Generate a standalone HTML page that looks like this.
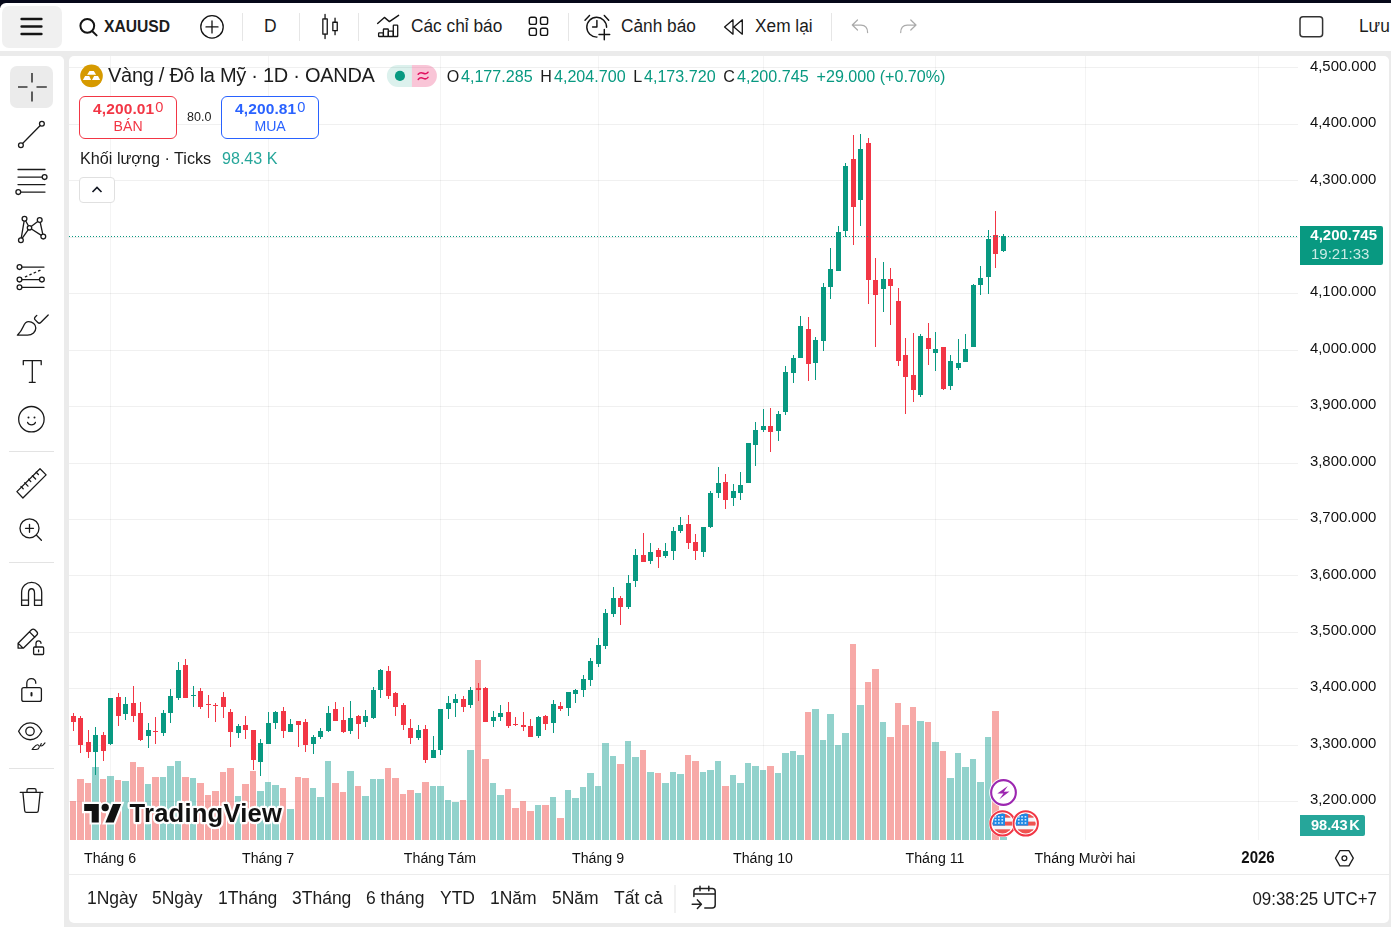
<!DOCTYPE html>
<html><head><meta charset="utf-8">
<style>
*{box-sizing:border-box;margin:0;padding:0}
html,body{width:1391px;height:927px;overflow:hidden;background:#ebebeb;font-family:"Liberation Sans",sans-serif;color:#1c1c1c}
.abs{position:absolute}
#topdark{left:0;top:0;width:1391px;height:8px;background:#060819}
#topbar{left:0;top:3px;width:1391px;height:48px;background:#fff;border-top-left-radius:6px}
#left{left:0;top:56px;width:64px;height:871px;background:#fff;border-top-right-radius:5px}
#pane{left:69px;top:56px;width:1320px;height:867px;background:#fff;border-radius:5px}
.t{position:absolute;white-space:nowrap;line-height:1}
.sep{position:absolute;width:1px;background:#e6e6e6;top:13px;height:28px}
svg{position:absolute;left:0;top:0;overflow:visible}
.ax{font-size:14.9px;color:#111}
.tm{font-size:15.5px;color:#111}
.rng{font-size:17.5px}
</style></head><body>
<div id="topdark" class="abs"></div>
<div id="topbar" class="abs"></div>
<div id="left" class="abs"></div>
<div id="pane" class="abs"></div>

<!-- chart svg -->
<svg width="1391" height="927" viewBox="0 0 1391 927" shape-rendering="crispEdges">
<rect x="110" y="56" width="1" height="784" fill="rgba(0,0,0,0.045)"/>
<rect x="268" y="56" width="1" height="784" fill="rgba(0,0,0,0.045)"/>
<rect x="440" y="56" width="1" height="784" fill="rgba(0,0,0,0.045)"/>
<rect x="598" y="56" width="1" height="784" fill="rgba(0,0,0,0.045)"/>
<rect x="763" y="56" width="1" height="784" fill="rgba(0,0,0,0.045)"/>
<rect x="935" y="56" width="1" height="784" fill="rgba(0,0,0,0.045)"/>
<rect x="1085" y="56" width="1" height="784" fill="rgba(0,0,0,0.045)"/>
<rect x="1258" y="56" width="1" height="784" fill="rgba(0,0,0,0.045)"/>
<rect x="69" y="67" width="1229" height="1" fill="rgba(0,0,0,0.058)"/>
<rect x="69" y="124" width="1229" height="1" fill="rgba(0,0,0,0.058)"/>
<rect x="69" y="180" width="1229" height="1" fill="rgba(0,0,0,0.058)"/>
<rect x="69" y="237" width="1229" height="1" fill="rgba(0,0,0,0.058)"/>
<rect x="69" y="293" width="1229" height="1" fill="rgba(0,0,0,0.058)"/>
<rect x="69" y="350" width="1229" height="1" fill="rgba(0,0,0,0.058)"/>
<rect x="69" y="406" width="1229" height="1" fill="rgba(0,0,0,0.058)"/>
<rect x="69" y="463" width="1229" height="1" fill="rgba(0,0,0,0.058)"/>
<rect x="69" y="519" width="1229" height="1" fill="rgba(0,0,0,0.058)"/>
<rect x="69" y="575" width="1229" height="1" fill="rgba(0,0,0,0.058)"/>
<rect x="69" y="632" width="1229" height="1" fill="rgba(0,0,0,0.058)"/>
<rect x="69" y="688" width="1229" height="1" fill="rgba(0,0,0,0.058)"/>
<rect x="69" y="745" width="1229" height="1" fill="rgba(0,0,0,0.058)"/>
<rect x="69" y="801" width="1229" height="1" fill="rgba(0,0,0,0.058)"/>
<rect x="70" y="801" width="6" height="39" fill="rgba(239,83,80,0.5)"/>
<rect x="77" y="779" width="7" height="61" fill="rgba(239,83,80,0.5)"/>
<rect x="85" y="783" width="6" height="57" fill="rgba(239,83,80,0.5)"/>
<rect x="92" y="767" width="7" height="73" fill="rgba(38,166,154,0.5)"/>
<rect x="100" y="779" width="6" height="61" fill="rgba(239,83,80,0.5)"/>
<rect x="107" y="776" width="7" height="64" fill="rgba(38,166,154,0.5)"/>
<rect x="115" y="780" width="6" height="60" fill="rgba(239,83,80,0.5)"/>
<rect x="122" y="781" width="7" height="59" fill="rgba(38,166,154,0.5)"/>
<rect x="130" y="762" width="6" height="78" fill="rgba(239,83,80,0.5)"/>
<rect x="137" y="767" width="7" height="73" fill="rgba(239,83,80,0.5)"/>
<rect x="145" y="784" width="6" height="56" fill="rgba(38,166,154,0.5)"/>
<rect x="152" y="777" width="7" height="63" fill="rgba(239,83,80,0.5)"/>
<rect x="160" y="777" width="6" height="63" fill="rgba(38,166,154,0.5)"/>
<rect x="167" y="766" width="7" height="74" fill="rgba(38,166,154,0.5)"/>
<rect x="175" y="761" width="6" height="79" fill="rgba(38,166,154,0.5)"/>
<rect x="182" y="777" width="7" height="63" fill="rgba(239,83,80,0.5)"/>
<rect x="190" y="778" width="6" height="62" fill="rgba(38,166,154,0.5)"/>
<rect x="197" y="783" width="7" height="57" fill="rgba(239,83,80,0.5)"/>
<rect x="205" y="795" width="6" height="45" fill="rgba(239,83,80,0.5)"/>
<rect x="212" y="791" width="7" height="49" fill="rgba(239,83,80,0.5)"/>
<rect x="220" y="772" width="6" height="68" fill="rgba(239,83,80,0.5)"/>
<rect x="227" y="768" width="7" height="72" fill="rgba(239,83,80,0.5)"/>
<rect x="235" y="796" width="6" height="44" fill="rgba(38,166,154,0.5)"/>
<rect x="242" y="784" width="7" height="56" fill="rgba(239,83,80,0.5)"/>
<rect x="250" y="771" width="6" height="69" fill="rgba(239,83,80,0.5)"/>
<rect x="257" y="791" width="7" height="49" fill="rgba(38,166,154,0.5)"/>
<rect x="265" y="782" width="6" height="58" fill="rgba(38,166,154,0.5)"/>
<rect x="272" y="785" width="7" height="55" fill="rgba(38,166,154,0.5)"/>
<rect x="280" y="788" width="6" height="52" fill="rgba(239,83,80,0.5)"/>
<rect x="287" y="809" width="7" height="31" fill="rgba(38,166,154,0.5)"/>
<rect x="295" y="777" width="6" height="63" fill="rgba(239,83,80,0.5)"/>
<rect x="302" y="778" width="7" height="62" fill="rgba(239,83,80,0.5)"/>
<rect x="310" y="788" width="6" height="52" fill="rgba(38,166,154,0.5)"/>
<rect x="317" y="797" width="7" height="43" fill="rgba(38,166,154,0.5)"/>
<rect x="325" y="761" width="6" height="79" fill="rgba(38,166,154,0.5)"/>
<rect x="332" y="783" width="7" height="57" fill="rgba(239,83,80,0.5)"/>
<rect x="340" y="792" width="6" height="48" fill="rgba(239,83,80,0.5)"/>
<rect x="347" y="771" width="7" height="69" fill="rgba(38,166,154,0.5)"/>
<rect x="355" y="786" width="6" height="54" fill="rgba(239,83,80,0.5)"/>
<rect x="362" y="796" width="7" height="44" fill="rgba(38,166,154,0.5)"/>
<rect x="370" y="779" width="6" height="61" fill="rgba(38,166,154,0.5)"/>
<rect x="377" y="779" width="7" height="61" fill="rgba(38,166,154,0.5)"/>
<rect x="385" y="768" width="6" height="72" fill="rgba(239,83,80,0.5)"/>
<rect x="392" y="778" width="7" height="62" fill="rgba(239,83,80,0.5)"/>
<rect x="400" y="794" width="6" height="46" fill="rgba(239,83,80,0.5)"/>
<rect x="407" y="790" width="7" height="50" fill="rgba(239,83,80,0.5)"/>
<rect x="415" y="793" width="6" height="47" fill="rgba(38,166,154,0.5)"/>
<rect x="422" y="782" width="7" height="58" fill="rgba(239,83,80,0.5)"/>
<rect x="430" y="786" width="6" height="54" fill="rgba(38,166,154,0.5)"/>
<rect x="437" y="786" width="7" height="54" fill="rgba(38,166,154,0.5)"/>
<rect x="445" y="800" width="6" height="40" fill="rgba(38,166,154,0.5)"/>
<rect x="452" y="802" width="7" height="38" fill="rgba(38,166,154,0.5)"/>
<rect x="460" y="800" width="6" height="40" fill="rgba(239,83,80,0.5)"/>
<rect x="467" y="750" width="7" height="90" fill="rgba(38,166,154,0.5)"/>
<rect x="475" y="660" width="6" height="180" fill="rgba(239,83,80,0.5)"/>
<rect x="482" y="759" width="7" height="81" fill="rgba(239,83,80,0.5)"/>
<rect x="490" y="783" width="6" height="57" fill="rgba(38,166,154,0.5)"/>
<rect x="497" y="795" width="7" height="45" fill="rgba(38,166,154,0.5)"/>
<rect x="505" y="789" width="6" height="51" fill="rgba(239,83,80,0.5)"/>
<rect x="512" y="808" width="7" height="32" fill="rgba(239,83,80,0.5)"/>
<rect x="520" y="801" width="6" height="39" fill="rgba(239,83,80,0.5)"/>
<rect x="527" y="811" width="7" height="29" fill="rgba(239,83,80,0.5)"/>
<rect x="535" y="805" width="6" height="35" fill="rgba(38,166,154,0.5)"/>
<rect x="542" y="805" width="7" height="35" fill="rgba(239,83,80,0.5)"/>
<rect x="550" y="797" width="6" height="43" fill="rgba(38,166,154,0.5)"/>
<rect x="557" y="818" width="7" height="22" fill="rgba(239,83,80,0.5)"/>
<rect x="565" y="790" width="6" height="50" fill="rgba(38,166,154,0.5)"/>
<rect x="572" y="798" width="7" height="42" fill="rgba(38,166,154,0.5)"/>
<rect x="580" y="787" width="6" height="53" fill="rgba(38,166,154,0.5)"/>
<rect x="587" y="773" width="7" height="67" fill="rgba(38,166,154,0.5)"/>
<rect x="595" y="786" width="6" height="54" fill="rgba(38,166,154,0.5)"/>
<rect x="602" y="743" width="7" height="97" fill="rgba(38,166,154,0.5)"/>
<rect x="610" y="756" width="6" height="84" fill="rgba(38,166,154,0.5)"/>
<rect x="617" y="764" width="7" height="76" fill="rgba(239,83,80,0.5)"/>
<rect x="625" y="741" width="6" height="99" fill="rgba(38,166,154,0.5)"/>
<rect x="632" y="757" width="7" height="83" fill="rgba(38,166,154,0.5)"/>
<rect x="640" y="750" width="6" height="90" fill="rgba(239,83,80,0.5)"/>
<rect x="647" y="772" width="7" height="68" fill="rgba(38,166,154,0.5)"/>
<rect x="655" y="773" width="6" height="67" fill="rgba(239,83,80,0.5)"/>
<rect x="662" y="783" width="7" height="57" fill="rgba(38,166,154,0.5)"/>
<rect x="670" y="772" width="6" height="68" fill="rgba(38,166,154,0.5)"/>
<rect x="677" y="774" width="7" height="66" fill="rgba(38,166,154,0.5)"/>
<rect x="685" y="755" width="6" height="85" fill="rgba(239,83,80,0.5)"/>
<rect x="692" y="761" width="7" height="79" fill="rgba(239,83,80,0.5)"/>
<rect x="700" y="772" width="6" height="68" fill="rgba(38,166,154,0.5)"/>
<rect x="707" y="770" width="7" height="70" fill="rgba(38,166,154,0.5)"/>
<rect x="715" y="761" width="6" height="79" fill="rgba(38,166,154,0.5)"/>
<rect x="722" y="786" width="7" height="54" fill="rgba(239,83,80,0.5)"/>
<rect x="730" y="775" width="6" height="65" fill="rgba(38,166,154,0.5)"/>
<rect x="737" y="783" width="7" height="57" fill="rgba(38,166,154,0.5)"/>
<rect x="745" y="763" width="6" height="77" fill="rgba(38,166,154,0.5)"/>
<rect x="752" y="766" width="7" height="74" fill="rgba(38,166,154,0.5)"/>
<rect x="760" y="770" width="6" height="70" fill="rgba(38,166,154,0.5)"/>
<rect x="767" y="766" width="7" height="74" fill="rgba(239,83,80,0.5)"/>
<rect x="775" y="773" width="6" height="67" fill="rgba(38,166,154,0.5)"/>
<rect x="782" y="753" width="7" height="87" fill="rgba(38,166,154,0.5)"/>
<rect x="790" y="751" width="6" height="89" fill="rgba(38,166,154,0.5)"/>
<rect x="797" y="755" width="7" height="85" fill="rgba(38,166,154,0.5)"/>
<rect x="805" y="712" width="6" height="128" fill="rgba(239,83,80,0.5)"/>
<rect x="812" y="709" width="7" height="131" fill="rgba(38,166,154,0.5)"/>
<rect x="820" y="740" width="6" height="100" fill="rgba(38,166,154,0.5)"/>
<rect x="827" y="714" width="7" height="126" fill="rgba(38,166,154,0.5)"/>
<rect x="835" y="745" width="6" height="95" fill="rgba(38,166,154,0.5)"/>
<rect x="842" y="733" width="7" height="107" fill="rgba(38,166,154,0.5)"/>
<rect x="850" y="644" width="6" height="196" fill="rgba(239,83,80,0.5)"/>
<rect x="857" y="705" width="7" height="135" fill="rgba(38,166,154,0.5)"/>
<rect x="865" y="682" width="6" height="158" fill="rgba(239,83,80,0.5)"/>
<rect x="872" y="669" width="7" height="171" fill="rgba(239,83,80,0.5)"/>
<rect x="880" y="722" width="6" height="118" fill="rgba(38,166,154,0.5)"/>
<rect x="887" y="737" width="7" height="103" fill="rgba(239,83,80,0.5)"/>
<rect x="895" y="703" width="6" height="137" fill="rgba(239,83,80,0.5)"/>
<rect x="902" y="725" width="7" height="115" fill="rgba(239,83,80,0.5)"/>
<rect x="910" y="707" width="6" height="133" fill="rgba(239,83,80,0.5)"/>
<rect x="917" y="721" width="7" height="119" fill="rgba(38,166,154,0.5)"/>
<rect x="925" y="722" width="6" height="118" fill="rgba(239,83,80,0.5)"/>
<rect x="932" y="742" width="7" height="98" fill="rgba(38,166,154,0.5)"/>
<rect x="940" y="751" width="6" height="89" fill="rgba(239,83,80,0.5)"/>
<rect x="947" y="778" width="7" height="62" fill="rgba(38,166,154,0.5)"/>
<rect x="955" y="753" width="6" height="87" fill="rgba(38,166,154,0.5)"/>
<rect x="962" y="767" width="7" height="73" fill="rgba(38,166,154,0.5)"/>
<rect x="970" y="759" width="6" height="81" fill="rgba(38,166,154,0.5)"/>
<rect x="977" y="782" width="7" height="58" fill="rgba(38,166,154,0.5)"/>
<rect x="985" y="737" width="6" height="103" fill="rgba(38,166,154,0.5)"/>
<rect x="992" y="711" width="7" height="129" fill="rgba(239,83,80,0.5)"/>
<rect x="1000" y="837" width="7" height="3" fill="rgba(38,166,154,0.5)"/>
<rect x="73" y="713" width="1" height="18" fill="#f23645"/>
<rect x="71" y="716" width="5" height="6" fill="#f23645"/>
<rect x="80" y="716" width="1" height="37" fill="#f23645"/>
<rect x="78" y="718" width="5" height="27" fill="#f23645"/>
<rect x="88" y="730" width="1" height="28" fill="#f23645"/>
<rect x="86" y="742" width="5" height="10" fill="#f23645"/>
<rect x="95" y="727" width="1" height="48" fill="#089981"/>
<rect x="93" y="735" width="5" height="17" fill="#089981"/>
<rect x="103" y="732" width="1" height="29" fill="#f23645"/>
<rect x="101" y="735" width="5" height="16" fill="#f23645"/>
<rect x="110" y="698" width="1" height="47" fill="#089981"/>
<rect x="108" y="698" width="5" height="46" fill="#089981"/>
<rect x="118" y="693" width="1" height="33" fill="#f23645"/>
<rect x="116" y="697" width="5" height="19" fill="#f23645"/>
<rect x="125" y="697" width="1" height="23" fill="#089981"/>
<rect x="123" y="704" width="5" height="10" fill="#089981"/>
<rect x="133" y="686" width="1" height="36" fill="#f23645"/>
<rect x="131" y="703" width="5" height="13" fill="#f23645"/>
<rect x="140" y="702" width="1" height="39" fill="#f23645"/>
<rect x="138" y="713" width="5" height="27" fill="#f23645"/>
<rect x="148" y="723" width="1" height="25" fill="#089981"/>
<rect x="146" y="730" width="5" height="6" fill="#089981"/>
<rect x="155" y="717" width="1" height="27" fill="#f23645"/>
<rect x="153" y="731" width="5" height="1" fill="#f23645"/>
<rect x="163" y="710" width="1" height="26" fill="#089981"/>
<rect x="161" y="713" width="5" height="20" fill="#089981"/>
<rect x="170" y="689" width="1" height="34" fill="#089981"/>
<rect x="168" y="696" width="5" height="17" fill="#089981"/>
<rect x="178" y="662" width="1" height="38" fill="#089981"/>
<rect x="176" y="670" width="5" height="28" fill="#089981"/>
<rect x="185" y="659" width="1" height="39" fill="#f23645"/>
<rect x="183" y="665" width="5" height="33" fill="#f23645"/>
<rect x="193" y="686" width="1" height="21" fill="#089981"/>
<rect x="191" y="695" width="5" height="1" fill="#089981"/>
<rect x="200" y="688" width="1" height="21" fill="#f23645"/>
<rect x="198" y="691" width="5" height="16" fill="#f23645"/>
<rect x="208" y="695" width="1" height="23" fill="#f23645"/>
<rect x="206" y="704" width="5" height="1" fill="#f23645"/>
<rect x="215" y="703" width="1" height="19" fill="#f23645"/>
<rect x="213" y="705" width="5" height="1" fill="#f23645"/>
<rect x="223" y="692" width="1" height="26" fill="#f23645"/>
<rect x="221" y="697" width="5" height="10" fill="#f23645"/>
<rect x="230" y="709" width="1" height="38" fill="#f23645"/>
<rect x="228" y="712" width="5" height="20" fill="#f23645"/>
<rect x="238" y="724" width="1" height="14" fill="#089981"/>
<rect x="236" y="726" width="5" height="7" fill="#089981"/>
<rect x="245" y="716" width="1" height="23" fill="#f23645"/>
<rect x="243" y="725" width="5" height="5" fill="#f23645"/>
<rect x="253" y="730" width="1" height="40" fill="#f23645"/>
<rect x="251" y="730" width="5" height="30" fill="#f23645"/>
<rect x="260" y="739" width="1" height="37" fill="#089981"/>
<rect x="258" y="743" width="5" height="19" fill="#089981"/>
<rect x="268" y="712" width="1" height="32" fill="#089981"/>
<rect x="266" y="723" width="5" height="21" fill="#089981"/>
<rect x="275" y="711" width="1" height="18" fill="#089981"/>
<rect x="273" y="712" width="5" height="11" fill="#089981"/>
<rect x="283" y="707" width="1" height="31" fill="#f23645"/>
<rect x="281" y="711" width="5" height="20" fill="#f23645"/>
<rect x="290" y="719" width="1" height="13" fill="#089981"/>
<rect x="288" y="724" width="5" height="8" fill="#089981"/>
<rect x="298" y="721" width="1" height="26" fill="#f23645"/>
<rect x="296" y="721" width="5" height="4" fill="#f23645"/>
<rect x="305" y="719" width="1" height="33" fill="#f23645"/>
<rect x="303" y="722" width="5" height="23" fill="#f23645"/>
<rect x="313" y="735" width="1" height="19" fill="#089981"/>
<rect x="311" y="737" width="5" height="7" fill="#089981"/>
<rect x="320" y="728" width="1" height="11" fill="#089981"/>
<rect x="318" y="731" width="5" height="6" fill="#089981"/>
<rect x="328" y="706" width="1" height="26" fill="#089981"/>
<rect x="326" y="713" width="5" height="18" fill="#089981"/>
<rect x="335" y="702" width="1" height="19" fill="#f23645"/>
<rect x="333" y="709" width="5" height="12" fill="#f23645"/>
<rect x="343" y="707" width="1" height="26" fill="#f23645"/>
<rect x="341" y="720" width="5" height="12" fill="#f23645"/>
<rect x="350" y="701" width="1" height="33" fill="#089981"/>
<rect x="348" y="718" width="5" height="13" fill="#089981"/>
<rect x="358" y="715" width="1" height="24" fill="#f23645"/>
<rect x="356" y="716" width="5" height="8" fill="#f23645"/>
<rect x="365" y="710" width="1" height="17" fill="#089981"/>
<rect x="363" y="716" width="5" height="6" fill="#089981"/>
<rect x="373" y="687" width="1" height="32" fill="#089981"/>
<rect x="371" y="690" width="5" height="28" fill="#089981"/>
<rect x="380" y="669" width="1" height="29" fill="#089981"/>
<rect x="378" y="670" width="5" height="20" fill="#089981"/>
<rect x="388" y="666" width="1" height="33" fill="#f23645"/>
<rect x="386" y="671" width="5" height="25" fill="#f23645"/>
<rect x="395" y="692" width="1" height="24" fill="#f23645"/>
<rect x="393" y="693" width="5" height="14" fill="#f23645"/>
<rect x="403" y="703" width="1" height="27" fill="#f23645"/>
<rect x="401" y="705" width="5" height="20" fill="#f23645"/>
<rect x="410" y="719" width="1" height="25" fill="#f23645"/>
<rect x="408" y="728" width="5" height="10" fill="#f23645"/>
<rect x="418" y="725" width="1" height="15" fill="#089981"/>
<rect x="416" y="730" width="5" height="8" fill="#089981"/>
<rect x="425" y="725" width="1" height="38" fill="#f23645"/>
<rect x="423" y="729" width="5" height="31" fill="#f23645"/>
<rect x="433" y="736" width="1" height="22" fill="#089981"/>
<rect x="431" y="750" width="5" height="8" fill="#089981"/>
<rect x="440" y="709" width="1" height="46" fill="#089981"/>
<rect x="438" y="709" width="5" height="41" fill="#089981"/>
<rect x="448" y="696" width="1" height="23" fill="#089981"/>
<rect x="446" y="703" width="5" height="6" fill="#089981"/>
<rect x="455" y="694" width="1" height="23" fill="#089981"/>
<rect x="453" y="699" width="5" height="4" fill="#089981"/>
<rect x="463" y="696" width="1" height="16" fill="#f23645"/>
<rect x="461" y="699" width="5" height="8" fill="#f23645"/>
<rect x="470" y="687" width="1" height="21" fill="#089981"/>
<rect x="468" y="690" width="5" height="15" fill="#089981"/>
<rect x="478" y="683" width="1" height="18" fill="#f23645"/>
<rect x="476" y="688" width="5" height="2" fill="#f23645"/>
<rect x="485" y="687" width="1" height="35" fill="#f23645"/>
<rect x="483" y="688" width="5" height="34" fill="#f23645"/>
<rect x="493" y="711" width="1" height="16" fill="#089981"/>
<rect x="491" y="717" width="5" height="4" fill="#089981"/>
<rect x="500" y="705" width="1" height="16" fill="#089981"/>
<rect x="498" y="713" width="5" height="4" fill="#089981"/>
<rect x="508" y="702" width="1" height="26" fill="#f23645"/>
<rect x="506" y="712" width="5" height="14" fill="#f23645"/>
<rect x="515" y="717" width="1" height="9" fill="#f23645"/>
<rect x="513" y="724" width="5" height="1" fill="#f23645"/>
<rect x="523" y="712" width="1" height="19" fill="#f23645"/>
<rect x="521" y="725" width="5" height="2" fill="#f23645"/>
<rect x="530" y="719" width="1" height="18" fill="#f23645"/>
<rect x="528" y="726" width="5" height="11" fill="#f23645"/>
<rect x="538" y="716" width="1" height="22" fill="#089981"/>
<rect x="536" y="717" width="5" height="19" fill="#089981"/>
<rect x="545" y="715" width="1" height="15" fill="#f23645"/>
<rect x="543" y="716" width="5" height="8" fill="#f23645"/>
<rect x="553" y="700" width="1" height="33" fill="#089981"/>
<rect x="551" y="704" width="5" height="19" fill="#089981"/>
<rect x="560" y="702" width="1" height="9" fill="#f23645"/>
<rect x="558" y="706" width="5" height="3" fill="#f23645"/>
<rect x="568" y="692" width="1" height="24" fill="#089981"/>
<rect x="566" y="692" width="5" height="16" fill="#089981"/>
<rect x="575" y="689" width="1" height="14" fill="#089981"/>
<rect x="573" y="690" width="5" height="4" fill="#089981"/>
<rect x="583" y="675" width="1" height="22" fill="#089981"/>
<rect x="581" y="679" width="5" height="11" fill="#089981"/>
<rect x="590" y="658" width="1" height="28" fill="#089981"/>
<rect x="588" y="661" width="5" height="19" fill="#089981"/>
<rect x="598" y="638" width="1" height="29" fill="#089981"/>
<rect x="596" y="645" width="5" height="19" fill="#089981"/>
<rect x="605" y="609" width="1" height="40" fill="#089981"/>
<rect x="603" y="613" width="5" height="33" fill="#089981"/>
<rect x="613" y="587" width="1" height="30" fill="#089981"/>
<rect x="611" y="598" width="5" height="16" fill="#089981"/>
<rect x="620" y="596" width="1" height="29" fill="#f23645"/>
<rect x="618" y="598" width="5" height="9" fill="#f23645"/>
<rect x="628" y="575" width="1" height="34" fill="#089981"/>
<rect x="626" y="583" width="5" height="24" fill="#089981"/>
<rect x="635" y="549" width="1" height="38" fill="#089981"/>
<rect x="633" y="555" width="5" height="26" fill="#089981"/>
<rect x="643" y="533" width="1" height="29" fill="#f23645"/>
<rect x="641" y="555" width="5" height="7" fill="#f23645"/>
<rect x="650" y="543" width="1" height="21" fill="#089981"/>
<rect x="648" y="552" width="5" height="9" fill="#089981"/>
<rect x="658" y="548" width="1" height="20" fill="#f23645"/>
<rect x="656" y="550" width="5" height="7" fill="#f23645"/>
<rect x="665" y="543" width="1" height="15" fill="#089981"/>
<rect x="663" y="551" width="5" height="5" fill="#089981"/>
<rect x="673" y="527" width="1" height="33" fill="#089981"/>
<rect x="671" y="531" width="5" height="20" fill="#089981"/>
<rect x="680" y="517" width="1" height="16" fill="#089981"/>
<rect x="678" y="525" width="5" height="6" fill="#089981"/>
<rect x="688" y="515" width="1" height="34" fill="#f23645"/>
<rect x="686" y="524" width="5" height="19" fill="#f23645"/>
<rect x="695" y="534" width="1" height="26" fill="#f23645"/>
<rect x="693" y="542" width="5" height="9" fill="#f23645"/>
<rect x="703" y="527" width="1" height="30" fill="#089981"/>
<rect x="701" y="527" width="5" height="25" fill="#089981"/>
<rect x="710" y="491" width="1" height="37" fill="#089981"/>
<rect x="708" y="493" width="5" height="34" fill="#089981"/>
<rect x="718" y="467" width="1" height="31" fill="#089981"/>
<rect x="716" y="483" width="5" height="10" fill="#089981"/>
<rect x="725" y="474" width="1" height="35" fill="#f23645"/>
<rect x="723" y="482" width="5" height="18" fill="#f23645"/>
<rect x="733" y="484" width="1" height="22" fill="#089981"/>
<rect x="731" y="491" width="5" height="7" fill="#089981"/>
<rect x="740" y="472" width="1" height="28" fill="#089981"/>
<rect x="738" y="485" width="5" height="8" fill="#089981"/>
<rect x="748" y="443" width="1" height="40" fill="#089981"/>
<rect x="746" y="443" width="5" height="40" fill="#089981"/>
<rect x="755" y="422" width="1" height="44" fill="#089981"/>
<rect x="753" y="430" width="5" height="15" fill="#089981"/>
<rect x="763" y="409" width="1" height="23" fill="#089981"/>
<rect x="761" y="426" width="5" height="4" fill="#089981"/>
<rect x="770" y="408" width="1" height="44" fill="#f23645"/>
<rect x="768" y="426" width="5" height="6" fill="#f23645"/>
<rect x="778" y="411" width="1" height="30" fill="#089981"/>
<rect x="776" y="414" width="5" height="17" fill="#089981"/>
<rect x="785" y="366" width="1" height="49" fill="#089981"/>
<rect x="783" y="372" width="5" height="40" fill="#089981"/>
<rect x="793" y="355" width="1" height="28" fill="#089981"/>
<rect x="791" y="358" width="5" height="15" fill="#089981"/>
<rect x="800" y="316" width="1" height="42" fill="#089981"/>
<rect x="798" y="326" width="5" height="32" fill="#089981"/>
<rect x="808" y="317" width="1" height="64" fill="#f23645"/>
<rect x="806" y="329" width="5" height="35" fill="#f23645"/>
<rect x="815" y="337" width="1" height="43" fill="#089981"/>
<rect x="813" y="340" width="5" height="23" fill="#089981"/>
<rect x="823" y="283" width="1" height="68" fill="#089981"/>
<rect x="821" y="287" width="5" height="54" fill="#089981"/>
<rect x="830" y="248" width="1" height="51" fill="#089981"/>
<rect x="828" y="269" width="5" height="18" fill="#089981"/>
<rect x="838" y="226" width="1" height="45" fill="#089981"/>
<rect x="836" y="232" width="5" height="39" fill="#089981"/>
<rect x="845" y="163" width="1" height="74" fill="#089981"/>
<rect x="843" y="166" width="5" height="65" fill="#089981"/>
<rect x="853" y="135" width="1" height="110" fill="#f23645"/>
<rect x="851" y="159" width="5" height="48" fill="#f23645"/>
<rect x="860" y="134" width="1" height="92" fill="#089981"/>
<rect x="858" y="149" width="5" height="51" fill="#089981"/>
<rect x="868" y="138" width="1" height="166" fill="#f23645"/>
<rect x="866" y="143" width="5" height="137" fill="#f23645"/>
<rect x="875" y="258" width="1" height="89" fill="#f23645"/>
<rect x="873" y="280" width="5" height="15" fill="#f23645"/>
<rect x="883" y="262" width="1" height="50" fill="#089981"/>
<rect x="881" y="279" width="5" height="10" fill="#089981"/>
<rect x="890" y="268" width="1" height="57" fill="#f23645"/>
<rect x="888" y="279" width="5" height="7" fill="#f23645"/>
<rect x="898" y="288" width="1" height="78" fill="#f23645"/>
<rect x="896" y="301" width="5" height="60" fill="#f23645"/>
<rect x="905" y="338" width="1" height="76" fill="#f23645"/>
<rect x="903" y="355" width="5" height="22" fill="#f23645"/>
<rect x="913" y="333" width="1" height="69" fill="#f23645"/>
<rect x="911" y="375" width="5" height="15" fill="#f23645"/>
<rect x="920" y="334" width="1" height="63" fill="#089981"/>
<rect x="918" y="336" width="5" height="59" fill="#089981"/>
<rect x="928" y="323" width="1" height="42" fill="#f23645"/>
<rect x="926" y="338" width="5" height="11" fill="#f23645"/>
<rect x="935" y="332" width="1" height="39" fill="#089981"/>
<rect x="933" y="349" width="5" height="4" fill="#089981"/>
<rect x="943" y="347" width="1" height="43" fill="#f23645"/>
<rect x="941" y="347" width="5" height="42" fill="#f23645"/>
<rect x="950" y="355" width="1" height="35" fill="#089981"/>
<rect x="948" y="361" width="5" height="25" fill="#089981"/>
<rect x="958" y="339" width="1" height="31" fill="#089981"/>
<rect x="956" y="363" width="5" height="5" fill="#089981"/>
<rect x="965" y="334" width="1" height="28" fill="#089981"/>
<rect x="963" y="349" width="5" height="13" fill="#089981"/>
<rect x="973" y="284" width="1" height="63" fill="#089981"/>
<rect x="971" y="285" width="5" height="62" fill="#089981"/>
<rect x="980" y="266" width="1" height="29" fill="#089981"/>
<rect x="978" y="278" width="5" height="7" fill="#089981"/>
<rect x="988" y="230" width="1" height="64" fill="#089981"/>
<rect x="986" y="239" width="5" height="38" fill="#089981"/>
<rect x="995" y="211" width="1" height="57" fill="#f23645"/>
<rect x="993" y="235" width="5" height="19" fill="#f23645"/>
<rect x="1003" y="234" width="1" height="18" fill="#089981"/>
<rect x="1001" y="236" width="5" height="15" fill="#089981"/>
</svg>

<!-- TOP BAR -->
<div class="abs" style="left:2px;top:6px;width:60px;height:42px;background:#f0f0f0;border-radius:7px"></div>
<svg width="1391" height="60" viewBox="0 0 1391 60" fill="none" stroke="#141414" stroke-width="1.3" stroke-linecap="round" stroke-linejoin="round">
 <!-- hamburger -->
 <g stroke-width="2.5"><path d="M21.6 18.9H41.4M21.6 26.5H41.4M21.6 34.1H41.4"/></g>
 <!-- search -->
 <g stroke-width="2"><circle cx="87.3" cy="25.8" r="6.9"/><path d="M92.3 31.3L96.6 35.4"/></g>
 <!-- plus circle -->
 <circle cx="212" cy="26.9" r="11.2"/><path d="M206 26.9H218M212 20.9V32.9"/>
 <!-- candle icon -->
 <rect x="322.85" y="18.95" width="4.4" height="15.2"/><path d="M325.05 14.4V18.9M325.05 34.2V38.6"/>
 <rect x="332.85" y="22.25" width="4.4" height="8.4"/><path d="M335.05 18.2V22.2M335.05 30.7V34.7"/>
 <!-- indicators -->
 <path d="M377.6 23.4L384.4 17.4L389.4 21.6L398.6 15.3" stroke-width="1.4"/>
 <rect x="378.6" y="32.9" width="4.8" height="3.6" rx="0.6"/><rect x="383.4" y="29" width="4.9" height="7.5" rx="0.6"/><rect x="388.3" y="31.1" width="5" height="5.4" rx="0.6"/><rect x="393.3" y="25.1" width="4.4" height="11.4" rx="0.6"/>
 <!-- grid -->
 <g stroke-width="1.4"><rect x="529.3" y="17.3" width="7.1" height="7.1" rx="1.9"/><rect x="540.5" y="17.3" width="7.1" height="7.1" rx="1.9"/>
 <rect x="529.3" y="28.3" width="7.1" height="7.1" rx="1.9"/><rect x="540.5" y="28.3" width="7.1" height="7.1" rx="1.9"/></g>
 <!-- alert -->
 <g stroke-width="1.45"><path d="M606.6 27.2A9.9 9.9 0 1 0 596.9 37.1"/><path d="M596.9 20.4V27H592.6"/>
 <path d="M585 20.2L589.5 15.4M604.3 15.4L608.7 20.2"/><path d="M599 34.5H609.7M604.3 29.4V39.8"/></g>
 <!-- replay -->
 <path d="M733 19.8V34.2L724.6 27Z M742.3 19.8V34.2L733.9 27Z"/>
 <!-- undo redo -->
 <g stroke="#ababab" stroke-width="1.25"><path d="M857.5 20L852.3 25L857.5 30M852.5 25H861C865.5 25 867.6 28.5 867.6 32.5"/>
 <path d="M910.8 20L916 25L910.8 30M915.8 25H907.3C902.8 25 900.7 28.5 900.7 32.5"/></g>
 <!-- square -->
 <rect x="1300" y="16.8" width="22.6" height="20" rx="3" stroke="#333" stroke-width="1.5"/>
</svg>
<div class="sep" style="left:242px"></div>
<div class="sep" style="left:299px"></div>
<div class="sep" style="left:358px"></div>
<div class="sep" style="left:568px"></div>
<div class="sep" style="left:831px"></div>
<div class="t tb" id="sym" style="left:104px;top:17.6px;font-size:17.4px;font-weight:bold;transform-origin:left top;transform:scaleX(0.9)">XAUUSD</div>
<div class="t tb" id="tfD" style="left:264.1px;top:17.1px;font-size:18px;transform-origin:left top;transform:scaleX(0.97)">D</div>
<div class="t tb" id="ind" style="left:411px;top:17.1px;font-size:18px;transform-origin:left top;transform:scaleX(0.96)">Các chỉ báo</div>
<div class="t tb" id="alr" style="left:621px;top:17.1px;font-size:18px;transform-origin:left top;transform:scaleX(0.96)">Cảnh báo</div>
<div class="t tb" id="rep" style="left:755px;top:17.1px;font-size:18px;transform-origin:left top;transform:scaleX(0.96)">Xem lại</div>
<div class="t tb" id="luu" style="left:1359.4px;top:17.1px;font-size:18px;transform-origin:left top;transform:scaleX(0.96)">Lưu</div>

<!-- LEFT BAR -->
<div class="abs" style="left:10px;top:66px;width:43px;height:42px;background:#ebebeb;border-radius:7px"></div>
<div class="abs" style="left:9px;top:451px;width:45px;height:1px;background:#e3e3e3"></div>
<div class="abs" style="left:9px;top:562px;width:45px;height:1px;background:#e3e3e3"></div>
<div class="abs" style="left:9px;top:768px;width:45px;height:1px;background:#e3e3e3"></div>
<svg width="64" height="927" viewBox="0 0 64 927" fill="none" stroke="#1a1a1a" stroke-width="1.3" stroke-linecap="round" stroke-linejoin="round">
 <!-- crosshair -->
 <g stroke="#3a3a3a" stroke-width="1.6" stroke-linecap="butt"><path d="M32 73V82.5M32 91.5V101.6M18 87H27.5M36.5 87H46.8"/></g>
 <!-- line -->
 <circle cx="41.9" cy="123.8" r="2.4"/><circle cx="20.9" cy="145.2" r="2.4"/><path d="M22.8 143.3L40 125.7"/>
 <!-- hlines -->
 <path d="M18 169.5H45M18 177.1H42M18 184.6H45M21 192.1H45"/><circle cx="44.6" cy="177.1" r="2.4" fill="#fff"/><circle cx="18.3" cy="192.1" r="2.4" fill="#fff"/>
 <!-- pattern -->
 <path d="M24.5 218.8L29.5 227.8L20.9 240.2ZM29.5 227.8L39.7 220L43.3 236.6Z"/>
 <g fill="#fff"><circle cx="24.5" cy="218.8" r="2.4"/><circle cx="39.7" cy="220" r="2.4"/><circle cx="29.5" cy="227.8" r="2.2"/><circle cx="43.3" cy="236.6" r="2.4"/><circle cx="20.9" cy="240.2" r="2.4"/></g>
 <!-- forecast -->
 <path d="M22 267.1H44M22 279.6H39.5M22 287.3H44"/><path d="M25.4 276.8L41.4 269.7" stroke-dasharray="1.6 3.2"/>
 <circle cx="19.5" cy="267.1" r="2.4"/><circle cx="19.5" cy="279.6" r="2.4"/><circle cx="41.9" cy="279.6" r="2.4"/><circle cx="19.5" cy="287.3" r="2.4"/>
 <!-- brush -->
 <path d="M17.4 335.2H27.5C32.5 335.2 35.8 331.5 35.8 328C35.8 324.5 32.5 321.7 28.7 321.7C25.5 321.7 24.3 324 23.3 326.5C22 329.7 19.8 332.7 17.4 335.2Z"/>
 <path d="M48.2 315L40.7 322.5C39.8 323.4 38.7 323.4 37.8 322.5L35.2 319.9C34.3 319 34.3 317.9 35.2 317L36.8 315.4"/>
 <!-- T -->
 <path d="M23.3 364.7V360.6H41.2V364.7M32.3 360.6V382.3M29.3 382.3H35.2"/>
 <!-- emoji -->
 <circle cx="31.4" cy="419.2" r="12.7"/><circle cx="28.5" cy="417.4" r="1" fill="#1a1a1a" stroke="none"/><circle cx="34.5" cy="417.4" r="1" fill="#1a1a1a" stroke="none"/>
 <path d="M27.6 422.4C29 425.6 34 425.6 35.4 422.4"/>
 <!-- ruler -->
 <path d="M40 468.8L46.1 474.9L22.9 498L16.9 491.6Z"/><path d="M36.2 472.2L38.4 474.5M32.4 475.7L35.6 479M28.6 479.3L30.8 481.6M24.8 482.8L28 486.1M21 486.4L23.2 488.7"/>
 <!-- zoom -->
 <circle cx="29.5" cy="528.3" r="9.5"/><path d="M36.5 535.3L41.4 540.2M25.5 528.3H33.5M29.5 524.3V532.3"/>
 <!-- magnet -->
 <path d="M21.6 605.4V592.5C21.6 579 41.7 579 41.7 592.5V605.4H34.5V593C34.5 587.3 28.5 587.3 28.5 593V605.4ZM21.6 600.2H28.5M34.5 600.2H41.7"/>
 <!-- pencil lock -->
 <path d="M18.1 648.2V643.2L31.5 629.8C32.5 628.8 33.8 628.8 34.8 629.8L36.8 631.8C37.8 632.8 37.8 634 36.8 635L23.3 648.2ZM18.3 643.4L22.9 648M29.5 631.9L34.8 637.2"/>
 <rect x="33.6" y="647" width="10" height="7.5" rx="1"/><path d="M36 647V643.5C36 640 41 640 41 643.3M38.6 650V651.8"/>
 <!-- lock -->
 <rect x="21.8" y="687.6" width="19.6" height="13.8" rx="2"/><path d="M26.8 687.6V683C26.8 677 35.8 677 35.8 683.3"/><path d="M31.5 693V695.5" stroke-width="2"/>
 <!-- eye -->
 <path d="M18.6 731.3C24 720 36.5 720 41.8 731.3C36.5 742.6 24 742.6 18.6 731.3Z"/><circle cx="30" cy="731.3" r="4.2"/>
 <path d="M32.1 749.5H36C39.5 749.5 40.5 745.5 37.5 744.7C35.8 744.5 34.7 746.5 32.1 749.5ZM40.3 745.8C42 746.7 43 745.7 45 742.9M40.3 745.8L41.3 743.5" stroke-width="1.1"/>
 <!-- trash -->
 <path d="M20.2 792.3H42.9M27 792.3V790.2C27 789.2 27.6 788.6 28.6 788.6H34.5C35.5 788.6 36.1 789.2 36.1 790.2V792.3M22.9 792.3L24.7 810.8C24.8 811.8 25.5 812.4 26.5 812.4H36.6C37.6 812.4 38.2 811.8 38.3 810.8L40.2 792.3"/>
</svg>
<div id="gs" style="position:absolute;left:0;top:0;width:1391px;height:927px;will-change:transform">
<!-- price axis labels -->
<div id="axis">
<div class="t ax" style="right:14.8px;top:59.38px">4,500.000</div>
<div class="t ax" style="right:14.8px;top:115.38px">4,400.000</div>
<div class="t ax" style="right:14.8px;top:172.38px">4,300.000</div>
<div class="t ax" style="right:14.8px;top:284.38px">4,100.000</div>
<div class="t ax" style="right:14.8px;top:341.38px">4,000.000</div>
<div class="t ax" style="right:14.8px;top:397.38px">3,900.000</div>
<div class="t ax" style="right:14.8px;top:454.38px">3,800.000</div>
<div class="t ax" style="right:14.8px;top:510.38px">3,700.000</div>
<div class="t ax" style="right:14.8px;top:567.38px">3,600.000</div>
<div class="t ax" style="right:14.8px;top:623.38px">3,500.000</div>
<div class="t ax" style="right:14.8px;top:679.38px">3,400.000</div>
<div class="t ax" style="right:14.8px;top:736.38px">3,300.000</div>
<div class="t ax" style="right:14.8px;top:792.38px">3,200.000</div>
</div>
<!-- current price label -->
<div class="abs" style="left:1300px;top:226px;width:83px;height:39px;background:#089981;border-radius:0 2px 2px 0"></div>
<div class="t" id="plbl" style="left:1310.3px;top:226.8px;font-size:15px;font-weight:bold;color:#fff">4,200.745</div>
<div class="t" id="pcnt" style="left:1311px;top:245.6px;font-size:15px;color:#c9ebe5">19:21:33</div>
<!-- vol label -->
<div class="abs" style="left:1300px;top:815px;width:65px;height:21px;background:#26a69a;border-radius:0 2px 2px 0"></div>
<div class="t" id="vlbl" style="left:1311px;top:817.9px;word-spacing:-2.4px;font-size:14.6px;font-weight:bold;color:#fff">98.43 K</div>

<!-- time axis -->
<div id="time">
<div class="t tm" style="left:110px;top:850.2px;transform:translateX(-50%) scaleX(0.915)">Tháng 6</div>
<div class="t tm" style="left:268px;top:850.2px;transform:translateX(-50%) scaleX(0.915)">Tháng 7</div>
<div class="t tm" style="left:440px;top:850.2px;transform:translateX(-50%) scaleX(0.915)">Tháng Tám</div>
<div class="t tm" style="left:598px;top:850.2px;transform:translateX(-50%) scaleX(0.915)">Tháng 9</div>
<div class="t tm" style="left:763px;top:850.2px;transform:translateX(-50%) scaleX(0.915)">Tháng 10</div>
<div class="t tm" style="left:935px;top:850.2px;transform:translateX(-50%) scaleX(0.915)">Tháng 11</div>
<div class="t tm" style="left:1085px;top:850.2px;transform:translateX(-50%) scaleX(0.915)">Tháng Mười hai</div>
<div class="t tm" style="left:1258px;top:850.2px;transform:translateX(-50%) scaleX(0.94);font-weight:bold;font-size:16px">2026</div>
</div>
<div class="abs" style="left:69px;top:874px;width:1320px;height:1px;background:#ececec"></div>

<!-- bottom range bar -->
<div id="ranges">
<div class="t rng" style="left:87px;top:890px">1Ngày</div>
<div class="t rng" style="left:152px;top:890px">5Ngày</div>
<div class="t rng" style="left:218px;top:890px">1Tháng</div>
<div class="t rng" style="left:292px;top:890px">3Tháng</div>
<div class="t rng" style="left:366px;top:890px">6 tháng</div>
<div class="t rng" style="left:440px;top:890px">YTD</div>
<div class="t rng" style="left:490px;top:890px">1Năm</div>
<div class="t rng" style="left:552px;top:890px">5Năm</div>
<div class="t rng" style="left:614px;top:890px">Tất cả</div>
<div class="abs" style="left:674px;top:885px;width:2px;height:28px;background:#f1f1f1"></div>
<div class="t rng" id="clock" style="right:14.3px;top:890.9px;font-size:17.5px;transform-origin:right top;transform:scaleX(0.966)">09:38:25 UTC+7</div>
</div>

<!-- legend -->
<div class="t" id="title" style="left:108px;top:64.9px;font-size:20px;letter-spacing:-0.28px">Vàng / Đô la Mỹ · 1D · OANDA</div>
<div class="t lg" style="left:446.7px;top:68px;font-size:16.1px">O</div>
<div class="t lg" style="left:461px;top:68px;font-size:16.1px;color:#089981">4,177.285</div>
<div class="t lg" style="left:540.3px;top:68px;font-size:16.1px">H</div>
<div class="t lg" style="left:554px;top:68px;font-size:16.1px;color:#089981">4,204.700</div>
<div class="t lg" style="left:633.3px;top:68px;font-size:16.1px">L</div>
<div class="t lg" style="left:644px;top:68px;font-size:16.1px;color:#089981">4,173.720</div>
<div class="t lg" style="left:723.3px;top:68px;font-size:16.1px">C</div>
<div class="t lg" style="left:737px;top:68px;font-size:16.1px;color:#089981">4,200.745</div>
<div class="t lg" style="left:816.6px;top:68px;font-size:16.1px;color:#089981">+29.000 (+0.70%)</div>

<!-- sell/buy -->
<div class="abs" style="left:79px;top:96px;width:98px;height:43px;border:1px solid #f23645;border-radius:6px;background:#fff"></div>
<div class="t" id="sellp" style="left:93px;top:100.5px;font-size:15.5px;letter-spacing:0.12px;font-weight:bold;color:#f23645">4,200.01<span style="font-weight:normal;position:relative;top:-1.6px;left:1px;font-size:14.6px;letter-spacing:0">0</span></div>
<div class="t" id="sellt" style="left:113.6px;top:118.8px;font-size:14.1px;color:#f23645">BÁN</div>
<div class="t" id="spread" style="left:187px;top:111.2px;font-size:12.5px">80.0</div>
<div class="abs" style="left:221px;top:96px;width:98px;height:43px;border:1px solid #2962ff;border-radius:6px;background:#fff"></div>
<div class="t" id="buyp" style="left:235px;top:100.5px;font-size:15.5px;letter-spacing:0.12px;font-weight:bold;color:#2962ff">4,200.81<span style="font-weight:normal;position:relative;top:-1.6px;left:1px;font-size:14.6px;letter-spacing:0">0</span></div>
<div class="t" id="buyt" style="left:254.4px;top:118.8px;font-size:14.1px;color:#2962ff">MUA</div>

<div class="t" id="voltxt" style="left:80px;top:150.3px;font-size:16.2px">Khối lượng · Ticks</div>
<div class="t" id="volval" style="left:222px;top:150.3px;font-size:16.1px;color:#26a69a">98.43 K</div>
<div class="abs" style="left:79px;top:177px;width:36px;height:26px;border:1px solid #e0e0e0;border-radius:4px;background:#fff"></div>
<svg width="1391" height="927" viewBox="0 0 1391 927"><path d="M92.5 192 L97 187.5 L101.5 192" fill="none" stroke="#131722" stroke-width="1.6"/></svg>

</div>
<!-- misc: dotted price line, gold icon, pill, logo, event icons, hexagon, calendar -->
<svg width="1391" height="927" viewBox="0 0 1391 927">
 <!-- dotted price line -->
 <line x1="69" y1="236.5" x2="1297" y2="236.5" stroke="#089981" stroke-width="1" stroke-dasharray="1 2" shape-rendering="crispEdges"/>
 <!-- gold icon -->
 <circle cx="91.5" cy="75.9" r="11.3" fill="#d69a00"/>
 <path d="M89.5 71H93.8L96.1 74.7H87.1ZM85.1 76H89.2L91.1 79.9H82.9ZM94.1 76H98L100.1 79.9H92Z" fill="#fff"/>
 <!-- pill -->
 <path d="M411.9 64.9H397.9A11 11 0 0 0 397.9 86.9H411.9Z" fill="#089981" fill-opacity="0.14"/>
 <path d="M411.9 64.9H425.9A11 11 0 0 1 425.9 86.9H411.9Z" fill="#e91e63" fill-opacity="0.26"/>
 <circle cx="399.95" cy="75.9" r="5.05" fill="#089981"/>
 <g fill="none" stroke="#e0115f" stroke-width="1.5" stroke-linecap="round">
  <path d="M418.2 74.3C420 71.8 422 72.6 423.3 73.2C425 74 426.6 74 428 72.2"/>
  <path d="M418.2 79.5C420 77 422 77.8 423.3 78.4C425 79.2 426.6 79.2 428 77.4"/>
 </g>
 <!-- TradingView logo -->
 <g stroke="#fff" stroke-width="4.4" stroke-linejoin="miter" fill="#fff">
  <path d="M84.2 804H98.8V822.4H91.7V811H84.2Z"/><circle cx="105.2" cy="807.5" r="3.65"/><path d="M113 804H121.1L113.8 822.4H105.4Z"/>
 </g>
 <g fill="#111">
  <path d="M84.2 804H98.8V822.4H91.7V811H84.2Z"/><circle cx="105.2" cy="807.5" r="3.65"/><path d="M113 804H121.1L113.8 822.4H105.4Z"/>
 </g>
 <text x="129.6" y="822.4" font-family="Liberation Sans, sans-serif" font-weight="bold" font-size="25.6" letter-spacing="0.2" fill="#111" stroke="#fff" stroke-width="4.4" stroke-linejoin="round" paint-order="stroke">TradingView</text>
 <!-- event icons -->
 <clipPath id="fc1"><circle cx="1002.5" cy="823.4" r="10"/></clipPath>
 <circle cx="1003.5" cy="792.5" r="14.3" fill="#fff"/>
 <circle cx="1003.5" cy="792.5" r="12.35" fill="#fff" stroke="#9c27b0" stroke-width="2.1"/>
 <path d="M1007.8 785.9L997.3 793.6L1003.4 793.4L999.4 799.2L1009.5 791.5L1003.9 791.8Z" fill="#9c27b0"/>
 <g transform="translate(0.0 0)">
  <circle cx="1002.5" cy="823.4" r="13.7" fill="#fff"/>
  <circle cx="1002.5" cy="823.4" r="12.2" fill="#fff" stroke="#f23645" stroke-width="2"/>
  <g clip-path="url(#fc1)">
   <rect x="992" y="813" width="21" height="21" fill="#f5f6fa"/>
   <rect x="992" y="813" width="21" height="4.7" fill="#ef5350"/><rect x="992" y="821.6" width="21" height="4" fill="#ef5350"/><rect x="992" y="829.3" width="21" height="5" fill="#ef5350"/>
   <rect x="992" y="813" width="13" height="12.6" fill="#1e88e5"/>
   <g fill="#d4e6fa"><rect x="994.7" y="816" width="1.7" height="1.6"/><rect x="998" y="816" width="1.7" height="1.6"/><rect x="1001.4" y="816" width="1.7" height="1.6"/><rect x="994.7" y="819" width="1.7" height="1.6"/><rect x="998" y="819" width="1.7" height="1.6"/><rect x="1001.4" y="819" width="1.7" height="1.6"/><rect x="994.7" y="822.2" width="1.7" height="1.6"/><rect x="998" y="822.2" width="1.7" height="1.6"/><rect x="1001.4" y="822.2" width="1.7" height="1.6"/></g>
  </g>
 </g>
 <g transform="translate(23.2 0)">
  <circle cx="1002.5" cy="823.4" r="13.7" fill="#fff"/>
  <circle cx="1002.5" cy="823.4" r="12.2" fill="#fff" stroke="#f23645" stroke-width="2"/>
  <g clip-path="url(#fc1)">
   <rect x="992" y="813" width="21" height="21" fill="#f5f6fa"/>
   <rect x="992" y="813" width="21" height="4.7" fill="#ef5350"/><rect x="992" y="821.6" width="21" height="4" fill="#ef5350"/><rect x="992" y="829.3" width="21" height="5" fill="#ef5350"/>
   <rect x="992" y="813" width="13" height="12.6" fill="#1e88e5"/>
   <g fill="#d4e6fa"><rect x="994.7" y="816" width="1.7" height="1.6"/><rect x="998" y="816" width="1.7" height="1.6"/><rect x="1001.4" y="816" width="1.7" height="1.6"/><rect x="994.7" y="819" width="1.7" height="1.6"/><rect x="998" y="819" width="1.7" height="1.6"/><rect x="1001.4" y="819" width="1.7" height="1.6"/><rect x="994.7" y="822.2" width="1.7" height="1.6"/><rect x="998" y="822.2" width="1.7" height="1.6"/><rect x="1001.4" y="822.2" width="1.7" height="1.6"/></g>
  </g>
 </g>
 <!-- hexagon settings -->
 <g fill="none" stroke="#1c1c1c" stroke-width="1.3" stroke-linejoin="round">
  <path d="M1335.5 858.2L1339.9 850.6H1348.9L1353.3 858.2L1348.9 865.8H1339.9Z"/><circle cx="1344.4" cy="858.2" r="2.4"/>
 </g>
 <!-- calendar -->
 <g fill="none" stroke="#222" stroke-width="1.5" stroke-linecap="round" stroke-linejoin="round">
  <path d="M693.9 896.4V891.6C693.9 889.8 695 888.6 696.9 888.6H712.2C714 888.6 715.2 889.8 715.2 891.6V904.9C715.2 906.7 714 907.9 712.2 907.9H704.8M693.9 894.1H715.2M700 886.3V890.7M708.8 886.3V890.7"/>
  <path d="M692.2 904.2H701.2M697.4 899.9L701.4 904.2L697.4 908.5"/>
 </g>
</svg>

</body></html>
